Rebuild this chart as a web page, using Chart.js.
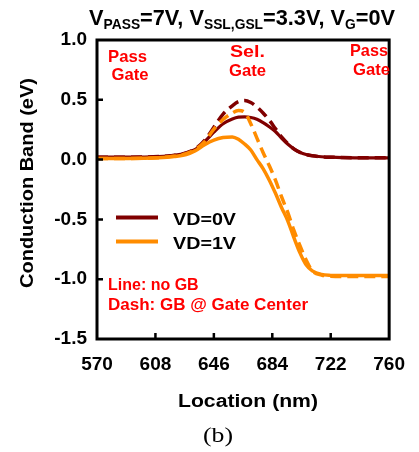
<!DOCTYPE html>
<html>
<head>
<meta charset="utf-8">
<script src="https://cdn.jsdelivr.net/npm/chart.js@4"></script>
<style>
  body { margin: 0; background: #fff; }
  canvas { display: block; }
</style>
</head>
<body>
<canvas id="myChart" width="419" height="452"></canvas>
<script>
// data (location in nm, conduction band in eV)
const location_nm = [570, 590, 610, 620, 628, 634, 640, 646, 652, 658, 662, 666, 670, 674, 678, 682, 686, 690, 694, 698, 702, 706, 710, 716, 722, 730, 745, 760];
const vd0Line = [0.02, 0.02, 0.025, 0.035, 0.055, 0.085, 0.15, 0.23, 0.30, 0.34, 0.355, 0.357, 0.352, 0.338, 0.31, 0.275, 0.235, 0.18, 0.13, 0.09, 0.06, 0.042, 0.032, 0.024, 0.02, 0.017, 0.015, 0.015];
const vd0Dash = [0.02, 0.02, 0.025, 0.035, 0.055, 0.09, 0.16, 0.27, 0.38, 0.45, 0.485, 0.495, 0.478, 0.44, 0.39, 0.33, 0.26, 0.19, 0.135, 0.09, 0.06, 0.042, 0.032, 0.024, 0.02, 0.017, 0.015, 0.015];
const vd1Line = [0.01, 0.01, 0.015, 0.025, 0.043, 0.075, 0.125, 0.163, 0.185, 0.19, 0.17, 0.13, 0.08, 0.0, -0.075, -0.17, -0.28, -0.40, -0.51, -0.65, -0.78, -0.88, -0.93, -0.96, -0.968, -0.97, -0.97, -0.97];
const vd1Dash = [0.01, 0.01, 0.015, 0.028, 0.05, 0.085, 0.15, 0.255, 0.335, 0.39, 0.41, 0.395, 0.30, 0.18, 0.06, -0.05, -0.17, -0.31, -0.44, -0.59, -0.72, -0.84, -0.93, -0.965, -0.975, -0.978, -0.978, -0.978];
const seriesLabels = ["VD=0V", "VD=1V"];
const xTickValues = [570, 608, 646, 684, 722, 760];
const yTickValues = [-1.5, -1.0, -0.5, 0.0, 0.5, 1.0];

const FONT = '"Liberation Sans", Arial, sans-serif';
const DARK = "#800000";
const ORANGE = "#ff8c00";
const RED = "#ff0000";

function pts(ys) {
  return location_nm.map((x, i) => ({ x: x, y: ys[i] }));
}

// draws text, squeezed or stretched sideways to a given width
function fitText(ctx, text, x, y, size, width, align, family, weight) {
  ctx.font = (weight || "bold") + " " + size + "px " + (family || FONT);
  const w = ctx.measureText(text).width;
  const sx = width ? width / w : 1;
  ctx.save();
  ctx.translate(x, y);
  ctx.scale(sx, 1);
  ctx.textAlign = align || "left";
  ctx.textBaseline = "alphabetic";
  ctx.fillText(text, 0, 0);
  ctx.restore();
}

const decorPlugin = {
  id: "decor",
  afterDraw(chart) {
    const ctx = chart.ctx;
    const a = chart.chartArea;
    const xs = chart.scales.x;
    const ys = chart.scales.y;
    ctx.save();

    // frame
    ctx.strokeStyle = "#000";
    ctx.lineWidth = 3;
    ctx.strokeRect(a.left, a.top, a.right - a.left, a.bottom - a.top);

    // inward ticks on left and bottom
    ctx.lineWidth = 2.5;
    ctx.beginPath();
    xTickValues.slice(1, -1).forEach(v => {
      const px = xs.getPixelForValue(v);
      ctx.moveTo(px, a.bottom);
      ctx.lineTo(px, a.bottom - 6);
    });
    yTickValues.slice(1, -1).forEach(v => {
      const py = ys.getPixelForValue(v);
      ctx.moveTo(a.left, py);
      ctx.lineTo(a.left + 6, py);
    });
    ctx.stroke();

    // title with subscripts
    ctx.fillStyle = "#000";
    const parts = [["V", 0], ["PASS", 1], ["=7V, V", 0], ["SSL,GSL", 1], ["=3.3V, V", 0], ["G", 1], ["=0V", 0]];
    let total = 0;
    parts.forEach(p => {
      ctx.font = "bold " + (p[1] ? 14 : 22) + "px " + FONT;
      total += ctx.measureText(p[0]).width;
    });
    const sx = 306 / total;
    ctx.save();
    ctx.translate(89, 0);
    ctx.scale(sx, 1);
    let cx = 0;
    parts.forEach(p => {
      ctx.font = "bold " + (p[1] ? 14 : 22) + "px " + FONT;
      ctx.textAlign = "left";
      ctx.textBaseline = "alphabetic";
      ctx.fillText(p[0], cx, p[1] ? 28.5 : 25);
      cx += ctx.measureText(p[0]).width;
    });
    ctx.restore();

    // axis titles
    fitText(ctx, "Location (nm)", 248, 407, 18, 140, "center");
    ctx.save();
    ctx.translate(33, 183);
    ctx.rotate(-Math.PI / 2);
    fitText(ctx, "Conduction Band (eV)", 0, 0, 18, 210, "center");
    ctx.restore();
    fitText(ctx, "(b)", 218, 442, 21, 30, "center", '"Liberation Serif", "Times New Roman", serif', "normal");

    // red labels
    ctx.fillStyle = RED;
    fitText(ctx, "Pass", 127.5, 62, 17, 39, "center");
    fitText(ctx, "Gate", 130, 80, 17, 37, "center");
    fitText(ctx, "Sel.", 247.5, 57, 17, 35, "center");
    fitText(ctx, "Gate", 247.5, 76, 17, 37, "center");
    fitText(ctx, "Pass", 369, 56, 17, 38, "center");
    fitText(ctx, "Gate", 371.5, 75, 17, 37, "center");
    fitText(ctx, "Line: no GB", 108, 289.5, 16, null, "left");
    fitText(ctx, "Dash: GB @ Gate Center", 108, 309.5, 16, 200, "left");

    // legend
    const legendY = [217.5, 241.5];
    const legendCol = [DARK, ORANGE];
    seriesLabels.forEach((lab, i) => {
      ctx.strokeStyle = legendCol[i];
      ctx.lineWidth = 4;
      ctx.beginPath();
      ctx.moveTo(116, legendY[i]);
      ctx.lineTo(158, legendY[i]);
      ctx.stroke();
      ctx.fillStyle = "#000";
      fitText(ctx, lab, 173, legendY[i] + 7.5, 17, 63, "left");
    });

    ctx.restore();
  }
};

const ctx = document.getElementById("myChart");

new Chart(ctx, {
  type: "line",
  data: {
    datasets: [
      { label: seriesLabels[0], data: pts(vd0Line), borderColor: DARK, borderWidth: 3.2, order: 4 },
      { label: seriesLabels[0] + " GB", data: pts(vd0Dash), borderColor: DARK, borderWidth: 3.5, borderDash: [11, 6], order: 3 },
      { label: seriesLabels[1], data: pts(vd1Line), borderColor: ORANGE, borderWidth: 3.5, order: 2 },
      { label: seriesLabels[1] + " GB", data: pts(vd1Dash), borderColor: ORANGE, borderWidth: 3.5, borderDash: [11, 6], order: 1 },
    ],
  },
  options: {
    responsive: false,
    animation: false,
    layout: { padding: { left: 0, right: 21, top: 40, bottom: 0 } },
    elements: {
      point: { radius: 0 },
      line: { cubicInterpolationMode: "monotone", fill: false },
    },
    plugins: {
      legend: { display: false },
      title: { display: false },
      tooltip: { enabled: false },
    },
    scales: {
      x: {
        type: "linear",
        min: 570,
        max: 760,
        afterBuildTicks: s => { s.ticks = xTickValues.map(v => ({ value: v })); },
        afterFit: s => { s.height = 113; },
        grid: { display: false, drawTicks: false },
        border: { display: false },
        ticks: {
          padding: 14,
          color: "#000",
          maxRotation: 0,
          font: { family: FONT, size: 19, weight: "bold" },
        },
      },
      y: {
        min: -1.5,
        max: 1.0,
        afterBuildTicks: s => { s.ticks = yTickValues.map(v => ({ value: v })); },
        afterFit: s => { s.width = 97; },
        grid: { display: false, drawTicks: false },
        border: { display: false },
        ticks: {
          padding: 10,
          color: "#000",
          font: { family: FONT, size: 19, weight: "bold" },
          callback: v => v.toFixed(1),
        },
      },
    },
  },
  plugins: [decorPlugin],
});
</script>
</body>
</html>
